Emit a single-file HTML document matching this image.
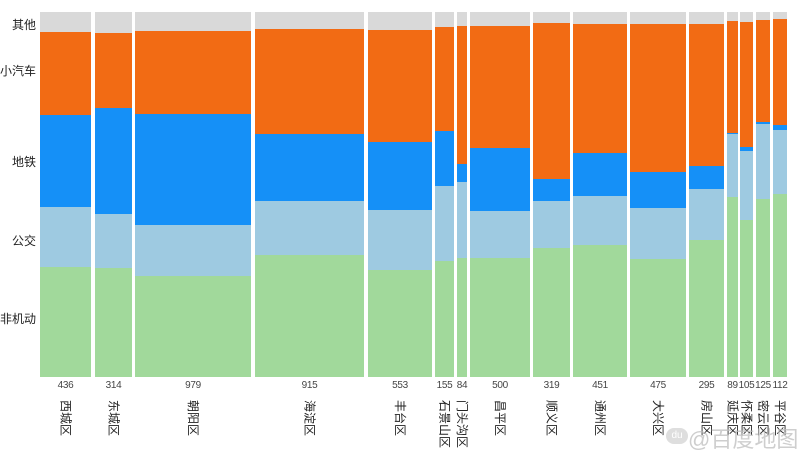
<!DOCTYPE html>
<html><head><meta charset="utf-8"><style>
body{margin:0;width:804px;height:465px;background:#fff;position:relative;overflow:hidden;font-family:"Liberation Sans","Noto Sans CJK SC",sans-serif;}
.s{position:absolute}
.yl{position:absolute;font-size:12px;color:#222;right:768px;white-space:nowrap}
.n{position:absolute;font-size:10px;color:#444;top:380px;text-align:center;width:40px;letter-spacing:-0.3px}
.nm{position:absolute;top:400px;font-size:12px;color:#222;writing-mode:vertical-rl;text-orientation:sideways;line-height:12px;white-space:nowrap}
</style></head><body>
<div class="yl" style="top:16px">其他</div>
<div class="yl" style="top:62px">小汽车</div>
<div class="yl" style="top:153px">地铁</div>
<div class="yl" style="top:232px">公交</div>
<div class="yl" style="top:310px">非机动</div>
<div id="c"></div>
<script>
var d=[
["西城区",436,40,91,32,115,207,267],
["东城区",314,95,132,33,108,214,268],
["朝阳区",979,135,251,31,114,225,276],
["海淀区",915,255,364,29,134,201,255],
["丰台区",553,368,432,30,142,210,270],
["石景山区",155,435,454,27,131,186,261],
["门头沟区",84,457,467,26,164,182,258],
["昌平区",500,470,530,26,148,211,258],
["顺义区",319,533,570,23,179,201,248],
["通州区",451,573,627,24,153,196,245],
["大兴区",475,630,686,24,172,208,259],
["房山区",295,689,724,24,166,189,240],
["延庆区",89,727,738,21,133,134,197],
["怀柔区",105,740,753,22,147,151,220],
["密云区",125,756,770,20,122,124,199],
["平谷区",112,773,787,19,125,130,194]];
var col=["#d9d9d9","#f26b14","#1590f7","#9ecae1","#a1d99b"];
var h="";
d.forEach(function(r){
 var x=r[2],w=r[3]-r[2],ys=[12,r[4],r[5],r[6],r[7],377];
 for(var i=0;i<5;i++)h+='<div class="s" style="left:'+x+'px;width:'+w+'px;top:'+ys[i]+'px;height:'+(ys[i+1]-ys[i])+'px;background:'+col[i]+'"></div>';
 var cx=(r[2]+r[3])/2;
 h+='<div class="n" style="left:'+(cx-20)+'px">'+r[1]+'</div>';
 h+='<div class="nm" style="left:'+(cx-6)+'px">'+r[0]+'</div>';
});
document.getElementById("c").innerHTML=h;
</script>
<div style="position:absolute;left:666px;top:428px;width:22px;height:16px;border-radius:8px;background:rgba(200,200,200,0.6);color:#fff;font-size:10px;text-align:center;line-height:16px">du</div>
<div style="position:absolute;left:688px;top:422px;font-size:22px;white-space:nowrap;color:rgba(190,190,190,0.75)">@百度地图</div>
</body></html>
